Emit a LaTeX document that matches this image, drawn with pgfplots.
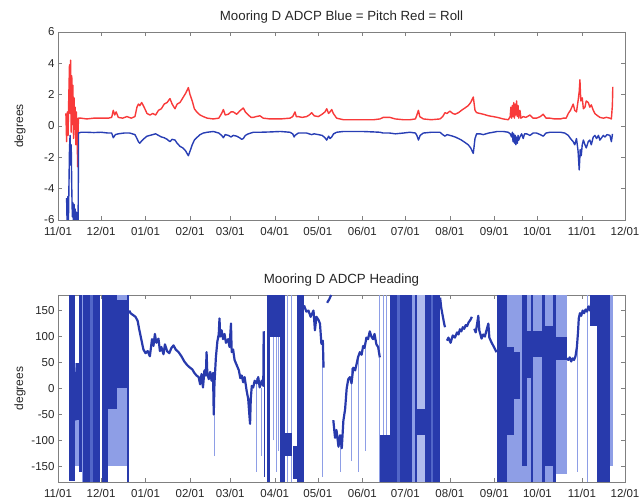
\documentclass[border=0pt]{standalone}
\usepackage{fontspec}
\setmainfont{Liberation Sans}
\usepackage{pgfplots}
\pgfplotsset{compat=1.18}

\definecolor{hdark}{RGB}{40,58,172}
\definecolor{hmid}{RGB}{82,102,200}
\definecolor{hlight}{RGB}{142,158,230}
\definecolor{rollred}{RGB}{248,58,58}
\definecolor{pitchblue}{RGB}{40,62,180}

% band of the heading record: from day #1 to day #2, from #3 to #4 degrees
\newcommand{\band}[5]{\addplot[draw=none, fill=#5] coordinates {(#1,#3) (#2,#3) (#2,#4) (#1,#4)};}

\pgfplotsset{
  mooring/.style={
    scale only axis, width=567pt, anchor=south west,
    xmin=0, xmax=395,
    xtick={0,30,61,92,120,151,181,212,242,273,304,334,365,395},
    xticklabels={11/01,12/01,01/01,02/01,03/01,04/01,05/01,06/01,07/01,08/01,09/01,10/01,11/01,12/01},
    tick label style={font=\fontsize{11.5}{13}\selectfont, black!85},
    xticklabel style={yshift=-3.5pt},
    /pgf/number format/assume math mode=true,
    axis line style={black!50}, tick style={black!50, thin},
    major tick length=4pt,
    title style={font=\fontsize{13.3}{15}\selectfont, black!85, at={(axis description cs:0.5,1)}, anchor=base, yshift=5pt, inner sep=0pt},
    ylabel=degrees,
    ylabel style={font=\fontsize{12}{14}\selectfont, black!85, at={(axis description cs:-0.067,0.5)}, anchor=center},
  }
}

\begin{document}
\begin{tikzpicture}
\path[use as bounding box] (0,0) rectangle (642pt,502pt);

% ---------- pitch and roll ----------
\begin{axis}[mooring, at={(58pt,282pt)}, height=188pt,
  ymin=-6, ymax=6, ytick={-6,-4,...,6},
  title={Mooring D ADCP Blue = Pitch Red = Roll}]

\addplot[rollred, line width=1.4pt, line join=round] coordinates {
(5.5,0.8) (6,-1.0) (6.5,0.9) (7,-0.6) (7.5,1.8) (8,3.9) (8.4,0.8) (8.8,4.2) (9.2,-0.4) (9.6,3.2)
(10,0.1) (10.4,2.6) (10.8,-0.8) (11.2,1.8) (11.6,-0.2) (12,1.2) (12.4,-1.2) (12.8,0.9) (13.3,-0.5)
(13.7,-2.6) (14.2,0.5) (16,0.5) (20,0.45) (25,0.5) (30,0.5) (35,0.5) (37.4,0.55) (38.5,1.0)
(39.5,0.7) (40.5,0.9) (42,0.55) (45,0.5) (48,0.6) (51,0.5) (53.6,0.6) (55,1.2) (56,1.4) (57,1.3)
(58.3,1.5) (60,1.2) (62,0.8) (64.1,0.7) (66,0.8) (68,0.7) (70,1.0) (72,1.1) (74,1.4) (76,1.5)
(78,1.75) (79.5,1.4) (81.5,1.1) (83,1.4) (85,1.5) (87,1.8) (89,2.1) (90.8,2.45) (92,2.0)
(93.5,1.6) (95,1.1) (96.6,0.9) (99,0.7) (101.2,0.6) (104,0.5) (108.2,0.45) (112,0.5) (114,0.8)
(115.2,1.05) (116.5,0.7) (118.7,0.75) (120.5,0.9) (122.1,0.9) (124.5,0.75) (126.5,0.95)
(129.1,1.15) (130.5,0.9) (132.6,0.7) (134.5,0.55) (136.1,0.55) (138,0.6) (140.7,0.65) (143,0.5)
(147.7,0.45) (155,0.45) (161.6,0.5) (163.5,0.6) (165.1,0.9) (166,0.6) (167.4,0.6) (170,0.55)
(173.2,0.6) (175,0.7) (176.7,0.85) (178.5,0.65) (181.3,0.6) (184,0.75) (186,0.9) (187.2,1.1)
(188.5,0.8) (189.5,0.9) (190.7,1.05) (191.8,0.8) (194.1,0.5) (198.8,0.4) (205,0.4) (212,0.4)
(220,0.4) (224.3,0.45) (226.6,0.55) (231.1,0.55) (235,0.45) (240.6,0.4) (245.2,0.4) (249,0.45)
(250,0.7) (251.1,1.0) (252,0.6) (254.5,0.45) (260,0.4) (266.1,0.45) (268,0.6) (269.6,0.85)
(271,0.8) (273,0.95) (275,0.8) (276.6,0.75) (279,0.85) (281.1,1.0) (283.5,1.15) (285.8,1.3)
(287.5,1.5) (289.3,1.85) (290.5,1.0) (291.6,0.85) (294,0.8) (296.3,0.75) (300,0.65) (303.2,0.6)
(306,0.55) (310.2,0.45) (313.7,0.4) (315,0.6) (315.5,1.2) (316,0.5) (316.5,1.3) (317,0.6)
(317.5,1.5) (318,0.5) (318.5,1.4) (319,0.7) (319.5,1.6) (320,0.6) (320.5,1.3) (321,0.5)
(321.8,1.0) (322.5,0.5) (324.1,0.6) (326,0.55) (328.8,0.7) (331,0.5) (333.4,0.5) (336,0.6)
(338,0.75) (340,0.5) (342.7,0.5) (346,0.45) (350,0.45) (352,0.5) (354,0.5) (355.5,0.8)
(357,1.0) (358.9,1.4) (360,1.0) (361.2,0.9) (362.3,1.6) (363.1,2.2) (363.6,2.95) (364.2,1.6)
(365.2,1.8) (366,1.1) (367.1,1.2) (368,1.6) (369.4,1.5) (370.5,1.2) (371.5,1.35) (372.9,1.0)
(374,0.8) (375.2,0.7) (377.5,0.55) (379.9,0.5) (382,0.55) (384.5,0.5) (385.5,0.45) (386.2,1.3)
(386.5,2.5)};

\addplot[pitchblue, line width=1.4pt, line join=round] coordinates {
(6,-4.6) (6.4,-6.5) (6.8,-4.5) (7.2,-6.5) (7.6,-4.0) (8,-1.5) (8.4,-0.6) (8.8,-2.5) (9.2,-1.2)
(9.6,-4.0) (10,-5.8) (10.4,-4.9) (10.8,-6.5) (11.2,-5.0) (11.6,-6.5) (12,-5.3) (12.4,-6.5)
(12.8,-5.5) (13.2,-6.5) (13.6,-5.6) (14,-6.5) (14.3,-0.45) (16,-0.4) (20,-0.4) (25,-0.42)
(30,-0.4) (35,-0.45) (37.4,-0.45) (38.5,-0.75) (40,-0.55) (42,-0.5) (46,-0.45) (50,-0.45)
(53.6,-0.55) (55,-0.8) (56,-1.0) (57,-1.1) (58.3,-0.95) (60,-0.8) (62,-0.65) (64.1,-0.6)
(66,-0.55) (68,-0.5) (70,-0.6) (72,-0.7) (74,-0.75) (76,-0.85) (78,-1.0) (79.5,-0.85)
(81.5,-0.9) (83,-1.1) (85,-1.3) (87,-1.4) (89,-1.6) (90.8,-1.9) (92,-1.6) (93.5,-1.2) (95,-0.9)
(96.6,-0.75) (99,-0.55) (101.2,-0.45) (104,-0.4) (108.2,-0.35) (112,-0.45) (114,-0.6)
(115.2,-0.75) (116.5,-0.55) (118.7,-0.6) (120.5,-0.7) (122.1,-0.6) (124.5,-0.65) (126.5,-0.75)
(128,-0.85) (129.1,-0.8) (130.5,-0.6) (132.6,-0.5) (136.1,-0.4) (140.7,-0.4) (147.7,-0.38)
(155,-0.35) (161.6,-0.4) (163.5,-0.5) (164.5,-0.7) (165.1,-0.6) (167.4,-0.45) (173.2,-0.45)
(176.7,-0.55) (178.5,-0.5) (181.3,-0.55) (184,-0.6) (186,-0.75) (187.2,-0.9) (188.5,-0.65)
(189.5,-0.8) (190.7,-0.7) (192,-0.5) (194.1,-0.4) (198.8,-0.35) (205,-0.35) (212,-0.35)
(220,-0.38) (224.3,-0.4) (226.6,-0.45) (231.1,-0.45) (235,-0.5) (240.6,-0.45) (245.2,-0.4)
(249,-0.45) (250,-0.6) (251.1,-0.9) (252.3,-0.6) (254.5,-0.45) (260,-0.4) (266.1,-0.4)
(268,-0.55) (269.6,-0.65) (271,-0.55) (273,-0.6) (275,-0.65) (276.6,-0.7) (279,-0.8) (281.1,-0.9)
(283.5,-1.05) (285.8,-1.2) (287.5,-1.4) (289.3,-1.75) (290.5,-0.8) (291.6,-0.5) (294,-0.5)
(296.3,-0.55) (300,-0.45) (303.2,-0.4) (306,-0.35) (310.2,-0.35) (313.7,-0.4) (315,-0.5)
(316,-0.7) (316.5,-0.4) (317,-1.0) (317.5,-0.5) (318,-1.1) (318.5,-0.6) (319,-1.2) (319.5,-0.7)
(320,-1.1) (320.5,-0.6) (321,-0.9) (321.8,-0.7) (323,-0.5) (324.1,-0.8) (325,-0.5) (326.5,-0.5)
(328.8,-0.6) (331,-0.45) (333.4,-0.45) (336,-0.55) (338,-0.65) (340,-0.45) (342.7,-0.4)
(346,-0.4) (350,-0.4) (353,-0.45) (355.5,-0.6) (357,-0.8) (358.9,-1.0) (360,-1.2) (361.2,-0.8)
(362.3,-1.6) (363.1,-2.8) (363.8,-1.5) (364.5,-1.9) (365.2,-1.2) (366,-0.9) (367.1,-1.2)
(368,-1.4) (369.4,-1.0) (370.5,-0.9) (371.5,-1.2) (372.9,-0.7) (374,-0.6) (375.2,-0.8)
(376.5,-0.6) (377.5,-0.9) (379.9,-0.6) (381,-0.7) (382.5,-0.55) (384.5,-0.6) (385.5,-1.0)
(386.3,-0.5)};
\end{axis}

% ---------- heading ----------
\begin{axis}[mooring, at={(58pt,20pt)}, height=187pt,
  ymin=-180, ymax=180, ytick={-150,-100,...,150},
  title={Mooring D ADCP Heading}]

% light and mid bands
\band{11.5}{14.7}{-150}{50}{hlight}
\band{16.5}{17.6}{-180}{180}{hlight}
\band{22}{24.5}{-180}{180}{hmid}
\band{35}{48.3}{-150}{180}{hlight}
\band{236}{238.5}{-180}{180}{hmid}
\band{246.5}{249}{-180}{180}{hlight}
\band{250}{255.7}{-180}{180}{hlight!70}
\band{313}{322}{-180}{180}{hlight}
\band{322}{326.5}{-180}{180}{hlight}
\band{326.5}{331}{-180}{180}{hlight}
\band{331}{337}{-180}{180}{hlight}
\band{339.5}{345}{-180}{180}{hlight}
\band{347}{354.4}{-165}{180}{hlight}
\band{384.5}{386.8}{-150}{180}{hlight}

% thin single excursions
\addplot[hlight, line width=0.6pt, unbounded coords=jump] coordinates {
(108.6,-130) (108.6,-50) (108.6,nan)
(138.4,-160) (138.4,20) (138.4,nan)
(141.5,-130) (141.5,0) (141.5,nan)
(150,-100) (150,180) (150,nan)
(152,-160) (152,180) (152,nan)
(153.5,-120) (153.5,180) (153.5,nan)
(160,-180) (160,180) (160,nan)
(162.5,-180) (162.5,180) (162.5,nan)
(183.8,-170) (183.8,80) (183.8,nan)
(197,-160) (197,-100) (197,nan)
(204,-140) (204,40) (204,nan)
(209.5,-160) (209.5,60) (209.5,nan)
(214,-120) (214,100) (214,nan)
(223.5,-180) (223.5,180) (223.5,nan)
(226.5,-90) (226.5,180) (226.5,nan)
(228.5,-90) (228.5,180) (228.5,nan)
(361.8,-160) (361.8,100) (361.8,nan)
(368.7,-180) (368.7,180)};

% dark bands
\band{7.5}{11.5}{-178}{180}{hdark}
\band{12.5}{14.7}{-60}{50}{hdark}
\band{14.7}{16.5}{-160}{180}{hdark}
\band{17.6}{22}{-180}{180}{hdark}
\band{24.5}{29.3}{-180}{180}{hdark}
\band{30.8}{35}{-180}{180}{hdark}
\band{35}{41}{-40}{180}{hdark}
\band{41}{48.3}{0}{170}{hdark}
\band{48.3}{49.6}{-180}{180}{hdark}
\band{143.2}{144.5}{-170}{110}{hdark}
\band{145.5}{147.5}{-180}{180}{hdark}
\band{147.5}{155}{100}{180}{hdark}
\band{155}{158}{-180}{180}{hdark}
\band{158}{163}{-130}{-85}{hdark}
\band{164}{166.5}{-175}{-110}{hdark}
\band{166.5}{171.4}{-180}{180}{hdark}
\band{224.2}{231}{-180}{-90}{hdark}
\band{231}{236}{-180}{180}{hdark}
\band{238.5}{246.5}{-180}{180}{hdark}
\band{249}{250}{-180}{180}{hdark}
\band{250}{255.7}{-90}{-40}{hdark}
\band{255.7}{259.5}{-180}{180}{hdark}
\band{259.5}{261.5}{-180}{180}{hmid}
\band{261.5}{266.2}{-180}{180}{hdark}
\band{305.5}{313}{-180}{180}{hdark}
\band{313}{318}{-90}{80}{hdark}
\band{318}{322}{-20}{70}{hdark}
\band{323.5}{326.5}{-150}{180}{hdark}
\band{326.5}{331}{20}{110}{hdark}
\band{329.5}{331}{-180}{180}{hdark}
\band{331}{337}{60}{110}{hdark}
\band{337}{339.5}{-180}{180}{hdark}
\band{339.5}{345}{-150}{120}{hdark}
\band{345}{347}{-180}{180}{hdark}
\band{347}{354.4}{55}{100}{hdark}
\band{370.6}{375.3}{120}{180}{hdark}
\band{375.3}{384.5}{-180}{180}{hdark}

% slowly turning parts
\addplot[hdark, line width=2.2pt, line join=round, unbounded coords=jump] coordinates {
(11.5,-30) (12,30) (12.5,-60) (13,40) (13.5,-20) (14,45) (14.7,0) (14.7,nan)
(49.6,150) (50.5,145) (52,142) (54,138) (55.5,130) (56.5,115) (58,95) (59.5,75) (61,68)
(62.5,72) (64,62) (65.5,95) (66.5,82) (67.5,105) (68.5,88) (70,96) (71,72) (72,80) (73.5,66)
(74.5,85) (76,72) (77.5,68) (79,78) (80.5,83) (82,75) (84,70) (86,62) (88,52) (90,45) (92,40)
(93.5,37) (95,30) (96.5,25) (98,22) (99,8) (100,28) (101,2) (102,35) (103,25) (103.5,70)
(104,30) (105,18) (106,32) (107,15) (108,30) (108.5,-50) (109,10) (110,60) (111,90) (112,105)
(112.5,135) (113,100) (114,112) (115,95) (116,105) (117,88) (118.5,95) (119.5,80) (120.5,125)
(121,70) (122,75) (123,55) (124.5,45) (126,35) (127,20) (128,25) (129,12) (130,22) (131.4,-4)
(132.5,-20) (133.3,-50) (133.8,-68) (134.3,-20) (135,5) (136,2) (137,15) (138.4,10) (139.5,22)
(140.5,2) (141.9,15) (143,5) (143.3,110) (143.3,nan)
(171.4,160) (173,148) (174.5,150) (176,138) (178,150) (179,112) (180,138) (181.5,132)
(182.5,125) (183.5,86) (184.5,92) (185,40) (185,nan)
(187.5,165) (189,172) (190.3,180) (190.3,nan)
(191.8,-61) (193,-95) (194,-80) (195.4,-112) (196.5,-90) (197.7,-115) (198.8,-62) (200,-40)
(201.1,0) (202.2,18) (203.4,22) (204.5,10) (205.7,40) (207,35) (208,47) (209,60) (210.3,70)
(211.5,65) (212.6,82) (213.5,78) (214.9,98) (216,95) (217.2,110) (218.3,100) (219.5,95)
(220.5,105) (221.8,85) (223,80) (224.2,60) (224.2,nan)
(250,-60) (251,-75) (252,-55) (253,-80) (254,-65) (255,-85) (255.7,-70) (255.7,nan)
(266.2,175) (267,155) (268,140) (269,125) (269.6,118) (269.6,nan)
(271,92) (272,98) (273.5,88) (275,102) (276.5,98) (278,108) (279,104) (280,114) (281,110)
(282,118) (283,115) (284,122) (285,120) (286,127) (287.5,133) (288.3,138) (288.3,nan)
(290,115) (291,108) (292,125) (292.8,140) (293.5,112) (295.1,96) (296.2,104) (297.4,100)
(298.5,112) (299.8,125) (300.5,98) (302.1,88) (303.3,82) (304.4,76) (305.5,70) (305.5,nan)
(354.4,58) (355.5,55) (356.5,60) (357.5,52) (358.5,58) (359.5,55) (360.5,62) (361.5,80)
(362.3,110) (362.8,135) (363.6,145) (364.5,140) (365.5,150) (366.5,145) (367.5,152)
(368.5,148) (369.5,158) (370.6,150) (371.5,165) (372.5,158) (373.5,172) (374.5,165) (375.3,178)};
\end{axis}
\end{tikzpicture}
\end{document}
